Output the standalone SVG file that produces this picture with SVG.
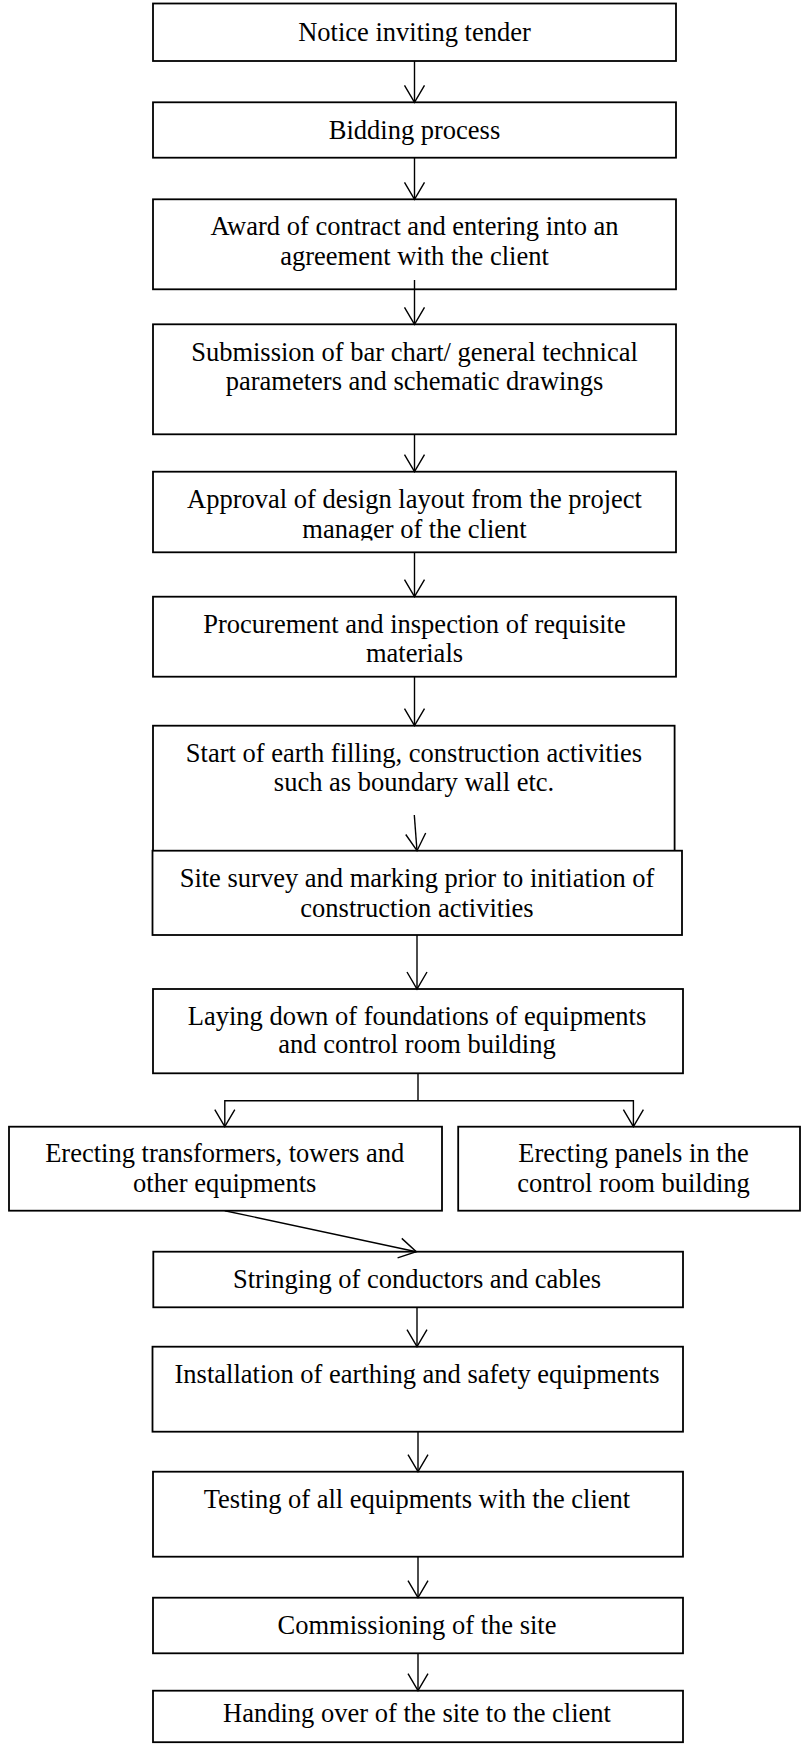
<svg xmlns="http://www.w3.org/2000/svg" width="801" height="1744" viewBox="0 0 801 1744">
<style>
.box{fill:#fff;stroke:#000;stroke-width:1.8}
.t{font-family:"Liberation Serif","Times New Roman",serif;font-size:26.5px;fill:#000;text-anchor:middle}
.c{fill:none;stroke:#000;stroke-width:1.4}
.a{marker-end:url(#arr)}
</style>
<defs>
<marker id="arr" markerUnits="userSpaceOnUse" markerWidth="40" markerHeight="40" refX="0" refY="0" orient="auto" overflow="visible">
<path d="M-17,-10 L0,0 L-17,10" fill="none" stroke="#000" stroke-width="1.4"/>
</marker>
<clipPath id="clip5"><rect x="150" y="470" width="530" height="70.5"/></clipPath>
</defs>
<rect width="801" height="1744" fill="#fff"/>
<g id="n1"><rect class="box" x="153" y="3.5" width="523" height="57.5"/><text class="t" x="414.5" y="41">Notice inviting tender</text></g>
<g id="n2"><rect class="box" x="153" y="102.3" width="523" height="55.4"/><text class="t" x="414.5" y="138.5">Bidding process</text></g>
<g id="n3"><rect class="box" x="153" y="199.3" width="523" height="90"/><text class="t" x="414.5" y="235">Award of contract and entering into an</text><text class="t" x="414.5" y="264.5">agreement with the client</text></g>
<g id="n4"><rect class="box" x="153" y="324.3" width="523" height="110"/><text class="t" x="414.5" y="360.5">Submission of bar chart/ general technical</text><text class="t" x="414.5" y="390">parameters and schematic drawings</text></g>
<g id="n5"><rect class="box" x="153" y="471.7" width="523" height="80.6"/><g clip-path="url(#clip5)"><text class="t" x="414.5" y="508.3">Approval of design layout from the project</text><text class="t" x="414.5" y="537.7">manager of the client</text></g></g>
<g id="n6"><rect class="box" x="153" y="596.7" width="523" height="80"/><text class="t" x="414.5" y="633.3">Procurement and inspection of requisite</text><text class="t" x="414.5" y="662">materials</text></g>
<g id="n7"><rect class="box" x="153" y="725.7" width="521.6" height="125.3"/><text class="t" x="414" y="762">Start of earth filling, construction activities</text><text class="t" x="414" y="790.5">such as boundary wall etc.</text></g>
<g id="n8"><rect class="box" x="152.5" y="850.7" width="529.5" height="84.3"/><text class="t" x="417" y="887">Site survey and marking prior to initiation of</text><text class="t" x="417" y="916.5">construction activities</text></g>
<g id="n9"><rect class="box" x="153" y="989" width="530" height="84.3"/><text class="t" x="417" y="1025">Laying down of foundations of equipments</text><text class="t" x="417" y="1053">and control room building</text></g>
<g id="n10"><rect class="box" x="9" y="1126.7" width="433" height="84"/><text class="t" x="224.7" y="1162">Erecting transformers, towers and</text><text class="t" x="224.7" y="1192">other equipments</text></g>
<g id="n11"><rect class="box" x="458.2" y="1126.7" width="341.8" height="84"/><text class="t" x="633.5" y="1162">Erecting panels in the</text><text class="t" x="633.5" y="1192">control room building</text></g>
<g id="n12"><rect class="box" x="153.3" y="1251.7" width="529.7" height="55.6"/><text class="t" x="417" y="1288">Stringing of conductors and cables</text></g>
<g id="n13"><rect class="box" x="152.5" y="1346.7" width="530.5" height="85"/><text class="t" x="417" y="1383">Installation of earthing and safety equipments</text></g>
<g id="n14"><rect class="box" x="153" y="1471.7" width="530" height="85"/><text class="t" x="417" y="1508">Testing of all equipments with the client</text></g>
<g id="n15"><rect class="box" x="153" y="1597.7" width="530" height="55.6"/><text class="t" x="417" y="1634">Commissioning of the site</text></g>
<g id="n16"><rect class="box" x="153" y="1690.7" width="530" height="51.5"/><text class="t" x="417" y="1722">Handing over of the site to the client</text></g>
<g id="connectors">
<line class="c a" x1="414.5" y1="61" x2="414.5" y2="102.3"/>
<line class="c a" x1="414.5" y1="157.7" x2="414.5" y2="199.3"/>
<line class="c a" x1="414.5" y1="280" x2="414.5" y2="324.3"/>
<line class="c a" x1="414.5" y1="434.3" x2="414.5" y2="471.7"/>
<line class="c a" x1="414.5" y1="552.3" x2="414.5" y2="596.7"/>
<line class="c a" x1="414.5" y1="676.7" x2="414.5" y2="725.7"/>
<line class="c a" x1="414.3" y1="815" x2="417" y2="850.7"/>
<line class="c a" x1="417" y1="935" x2="417" y2="989"/>
<polyline class="c" points="418,1073.3 418,1100.7"/>
<polyline class="c a" points="418,1100.7 224.8,1100.7 224.8,1126.7"/>
<polyline class="c a" points="418,1100.7 633.4,1100.7 633.4,1126.7"/>
<line class="c a" x1="224.8" y1="1210.7" x2="416.3" y2="1251.7"/>
<line class="c a" x1="417" y1="1307.3" x2="417" y2="1346.7"/>
<line class="c a" x1="418" y1="1431.7" x2="418" y2="1471.7"/>
<line class="c a" x1="418" y1="1556.7" x2="418" y2="1597.7"/>
<line class="c a" x1="418" y1="1653.3" x2="418" y2="1690.7"/>
</g>
</svg>
